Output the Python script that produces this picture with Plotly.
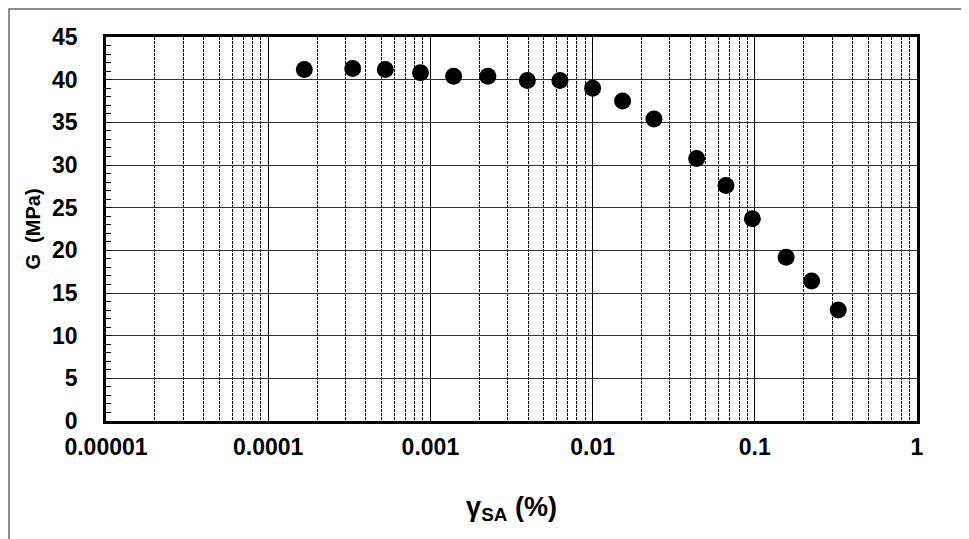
import plotly.graph_objects as go

strain = [1.67e-4, 3.32e-4, 5.27e-4, 8.69e-4, 1.39e-3, 2.26e-3, 3.96e-3, 6.29e-3,
          0.0100, 0.0153, 0.0239, 0.0438, 0.0664, 0.0966, 0.156, 0.224, 0.327]
G = [41.2, 41.3, 41.2, 40.8, 40.4, 40.4, 39.9, 39.9, 39.0, 37.5, 35.4, 30.75,
     27.6, 23.7, 19.2, 16.4, 13.0]

xtickvals = [0.00001, 0.0001, 0.001, 0.01, 0.1, 1]
xticktext = ["0.00001", "0.0001", "0.001", "0.01", "0.1", "1"]

font_family = "Liberation Sans, Arial, sans-serif"

fig = go.Figure()
fig.add_trace(go.Scatter(
    x=strain, y=G, mode="markers",
    marker=dict(color="black", size=17, line=dict(width=0)),
    showlegend=False, cliponaxis=False,
))

# page body has an 8px margin, so the figure is offset by (8, 8)
fig.update_layout(
    width=961, height=531,
    margin=dict(l=98, r=52, t=29, b=118),
    paper_bgcolor="white", plot_bgcolor="white",
    font=dict(family=font_family, color="black"),
    xaxis=dict(
        type="log", range=[-5, 0],
        tickmode="array", tickvals=xtickvals, ticktext=xticktext,
        tickfont=dict(size=23, family=font_family, weight="bold"),
        showgrid=True, gridcolor="black", gridwidth=1,
        showline=True, linecolor="black", linewidth=2.5, mirror=True,
        ticks="", ticklabelstandoff=4,
        minor=dict(tickmode="linear", dtick="D1", showgrid=True, gridcolor="black",
                   griddash="3px,1px", gridwidth=1, ticks=""),
        title=dict(text="<b>γ<sub>SA</sub> (%)</b>", font=dict(size=27, family=font_family),
                   standoff=38),
        zeroline=False,
    ),
    yaxis=dict(
        range=[0, 45], tickmode="linear", tick0=0, dtick=5,
        tickfont=dict(size=23, family=font_family, weight="bold"),
        showgrid=True, gridcolor="#333333", gridwidth=1,
        showline=True, linecolor="black", linewidth=2.5, mirror=True,
        ticks="inside", ticklen=5, tickcolor="black", tickwidth=1,
        ticklabelstandoff=21,
        minor=dict(tickmode="linear", dtick=1, ticks="inside", ticklen=5,
                   tickcolor="black", tickwidth=1, showgrid=False),
        title=dict(text="<b>G  (MPa)</b>", font=dict(size=20, family=font_family),
                   standoff=7),
        zeroline=False,
    ),
)

# outer chart border (as close to the page corner as the figure allows)
fig.add_shape(type="rect", xref="paper", yref="paper",
              x0=-0.1196, x1=1.2, y0=-0.5, y1=1.073,
              line=dict(color="#666666", width=1.5), fillcolor="rgba(0,0,0,0)",
              layer="below")

fig.write_html("out.html")
